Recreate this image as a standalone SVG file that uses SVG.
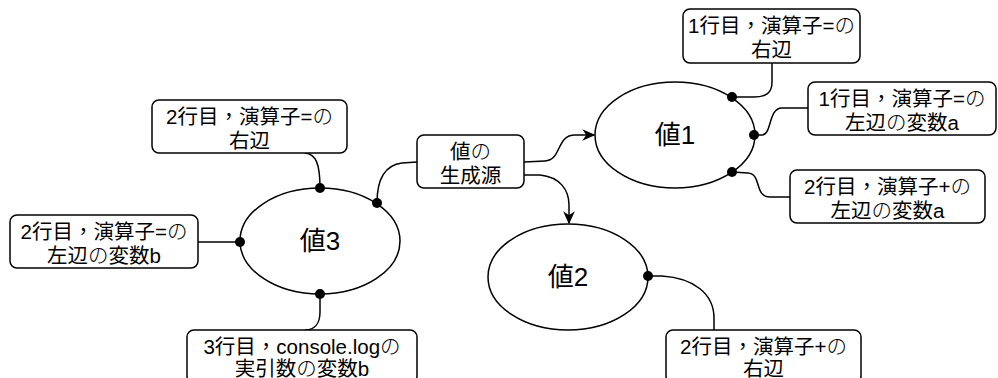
<svg xmlns="http://www.w3.org/2000/svg" width="998" height="378" viewBox="0 0 998 378">
<style>
.box{fill:#fff;stroke:#000;stroke-width:1.5}
.ell{fill:#fff;stroke:#000;stroke-width:1.5}
.t{font-family:"Liberation Sans","Noto Sans CJK JP",sans-serif;font-size:20.5px;text-anchor:middle;fill:#000}
.big{font-size:26px}
.no{font-weight:300}
.cm{font-family:"Noto Sans CJK TC",sans-serif}
.c{fill:none;stroke:#000;stroke-width:1.5}
.dot{fill:#000}
</style>
<defs>
<marker id="arr" viewBox="0 0 10 10" refX="9" refY="5" markerWidth="13" markerHeight="13" orient="auto" markerUnits="userSpaceOnUse">
<path d="M0,0.5 L10,5 L0,9.5 L3,5 Z" fill="#000"/>
</marker>
</defs>
<g id="connectors">
<path class="c" d="M772,63 L772,82 C772,93 766,97 754,97 L732,97"/>
<path class="c" d="M754,135 L762,135 C772,135 768,108 782,108 L808,108"/>
<path class="c" d="M732,172 L748,173 C762,174 754,197 770,197 L790,197"/>
<path class="c" d="M524,162 L545,161 C562,160 556,135 575,135 L594,135" marker-end="url(#arr)"/>
<path class="c" d="M524,175 L540,175 C560,177 569,190 569,205 L569,223" marker-end="url(#arr)"/>
<path class="c" d="M417,162 L402,163 C386,165 377,178 377,203"/>
<path class="c" d="M305,153 C316,154 320,164 320,188"/>
<path class="c" d="M198,242 L240,242"/>
<path class="c" d="M320,294 L320,312 C320,324 314,330 305,330"/>
<path class="c" d="M648,276 L662,276 C694,278 714,294 714,318 L714,330"/>
</g>
<g id="v1"><ellipse class="ell" cx="675" cy="135" rx="80" ry="53"/><text class="t big" x="675" y="144">値1</text>
<circle class="dot" cx="732" cy="97" r="5"/><circle class="dot" cx="754" cy="135" r="5"/><circle class="dot" cx="732" cy="172" r="5"/></g>
<g id="v2"><ellipse class="ell" cx="568" cy="277" rx="80" ry="53"/><text class="t big" x="568" y="286">値2</text>
<circle class="dot" cx="648" cy="276" r="5"/></g>
<g id="v3"><ellipse class="ell" cx="320" cy="241" rx="80" ry="53"/><text class="t big" x="320" y="250">値3</text>
<circle class="dot" cx="320" cy="188" r="5"/><circle class="dot" cx="377" cy="203" r="5"/><circle class="dot" cx="240" cy="242" r="5"/><circle class="dot" cx="320" cy="294" r="5"/></g>
<g id="src"><rect class="box" x="417" y="135" width="107" height="53" rx="7"/><text class="t" x="470.5" y="159">値<tspan class="no">の</tspan></text><text class="t" x="470.5" y="183">生成源</text></g>
<g id="b1"><rect class="box" x="683" y="9" width="177" height="54" rx="7"/><text class="t" x="771.5" y="33">1行目<tspan class="cm">，</tspan>演算子=<tspan class="no">の</tspan></text><text class="t" x="771.5" y="57">右辺</text></g>
<g id="b2"><rect class="box" x="808" y="82" width="188" height="53" rx="7"/><text class="t" x="902" y="106">1行目<tspan class="cm">，</tspan>演算子=<tspan class="no">の</tspan></text><text class="t" x="902" y="130">左辺<tspan class="no">の</tspan>変数a</text></g>
<g id="b3"><rect class="box" x="790" y="170" width="195" height="53" rx="7"/><text class="t" x="887.5" y="194">2行目<tspan class="cm">，</tspan>演算子+<tspan class="no">の</tspan></text><text class="t" x="887.5" y="218">左辺<tspan class="no">の</tspan>変数a</text></g>
<g id="b4"><rect class="box" x="152" y="100" width="195" height="53" rx="7"/><text class="t" x="249.5" y="124">2行目<tspan class="cm">，</tspan>演算子=<tspan class="no">の</tspan></text><text class="t" x="249.5" y="148">右辺</text></g>
<g id="b5"><rect class="box" x="10" y="215" width="188" height="53" rx="7"/><text class="t" x="104" y="239">2行目<tspan class="cm">，</tspan>演算子=<tspan class="no">の</tspan></text><text class="t" x="104" y="263">左辺<tspan class="no">の</tspan>変数b</text></g>
<g id="b6"><rect class="box" x="187" y="330" width="230" height="53" rx="7"/><text class="t" x="302" y="354">3行目<tspan class="cm">，</tspan>console.log<tspan class="no">の</tspan></text><text class="t" x="302" y="376">実引数<tspan class="no">の</tspan>変数b</text></g>
<g id="b7"><rect class="box" x="666" y="330" width="195" height="53" rx="7"/><text class="t" x="763.5" y="354">2行目<tspan class="cm">，</tspan>演算子+<tspan class="no">の</tspan></text><text class="t" x="763.5" y="376">右辺</text></g>
</svg>
